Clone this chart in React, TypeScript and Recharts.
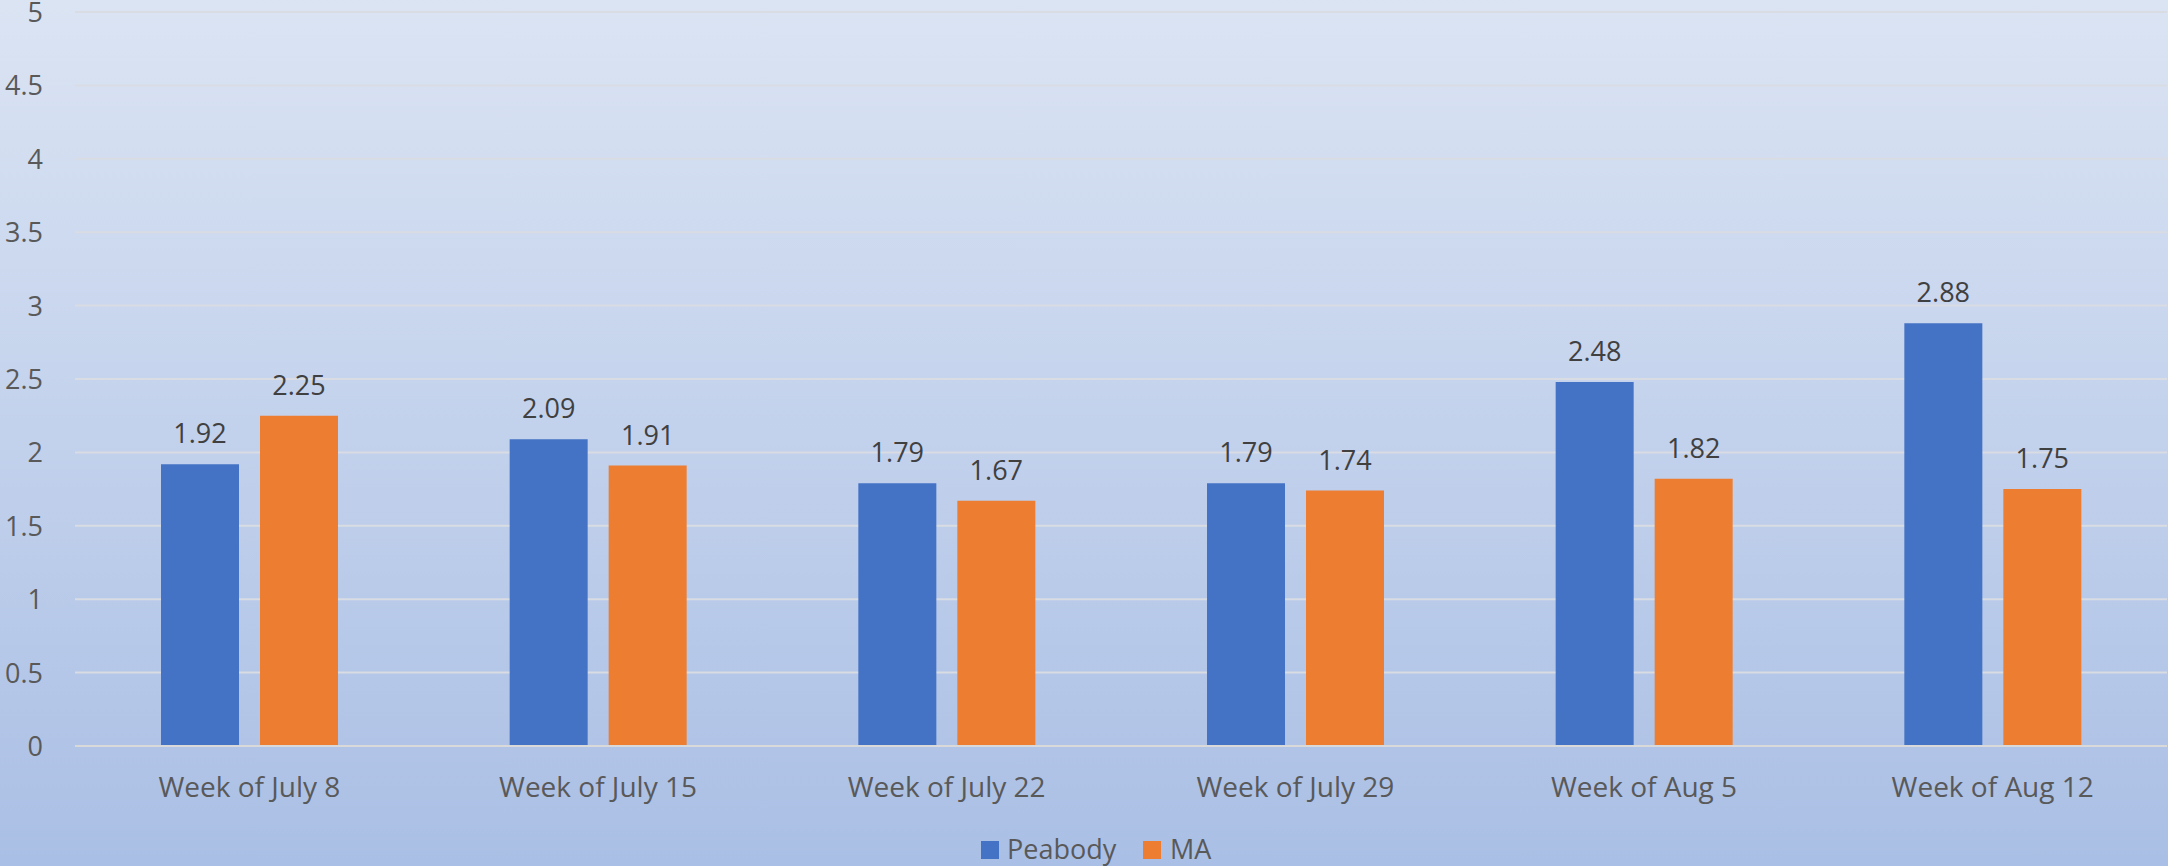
import React from 'react';
import { BarChart, Bar, XAxis, YAxis, CartesianGrid, Legend, LabelList } from 'recharts';

const categories = ['Week of July 8', 'Week of July 15', 'Week of July 22', 'Week of July 29', 'Week of Aug 5', 'Week of Aug 12'];
const peabody = [1.92, 2.09, 1.79, 1.79, 2.48, 2.88];
const ma = [2.25, 1.91, 1.67, 1.74, 1.82, 1.75];
const yTicks = [0, 0.5, 1, 1.5, 2, 2.5, 3, 3.5, 4, 4.5, 5];
const seriesNames = ['Peabody', 'MA'];

const data = categories.map((c, i) => ({ name: c, Peabody: peabody[i], MA: ma[i] }));

const FONT = '"Open Sans", sans-serif';
const BLUE = '#4472C4';
const ORANGE = '#ED7D31';

const XTick = (props: any) => {
  const { x, y, payload } = props;
  return (
    <text x={x} y={y + 51} textAnchor="middle" fontFamily={FONT} fontSize={28} fill="#595959">
      {payload.value}
    </text>
  );
};

const YTick = (props: any) => {
  const { y, payload } = props;
  return (
    <text x={43} y={y + 10} textAnchor="end" fontFamily={FONT} fontSize={27} fill="#595959">
      {payload.value}
    </text>
  );
};

const LegendContent = () => (
  <svg width={260} height={40} style={{ display: 'block' }}>
    <rect x={0} y={11} width={18} height={18} fill={BLUE} />
    <text x={26} y={29} fontFamily={FONT} fontSize={27} fill="#595959">{seriesNames[0]}</text>
    <rect x={162} y={11} width={18} height={18} fill={ORANGE} />
    <text x={189} y={29} fontFamily={FONT} fontSize={27} fill="#595959">{seriesNames[1]}</text>
  </svg>
);

export default function App() {
  return (
    <div
      style={{
        position: 'absolute',
        left: 0,
        top: 0,
        width: 2168,
        height: 866,
        background: 'linear-gradient(to bottom, #dbe4f3 0%, #aabfe5 100%)',
      }}
    >
      <BarChart
        width={2168}
        height={866}
        data={data}
        margin={{ top: 12, right: 1, left: 0, bottom: 0 }}
        barSize={78}
        barGap={21}
      >
        <CartesianGrid vertical={false} stroke="#d9dce3" strokeWidth={2} />
        <XAxis
          dataKey="name"
          height={120}
          tickSize={0}
          tickMargin={0}
          tickLine={false}
          axisLine={{ stroke: '#d9d9d9', strokeWidth: 2 }}
          tick={<XTick />}
          interval={0}
        />
        <YAxis
          width={75}
          domain={[0, 5]}
          ticks={yTicks}
          axisLine={false}
          tickLine={false}
          tickSize={0}
          tick={<YTick />}
          interval={0}
        />
        <Legend
          layout="horizontal"
          verticalAlign="middle"
          align="center"
          content={<LegendContent />}
          wrapperStyle={{ top: 830, left: 981, width: 260, height: 40 }}
        />
        <Bar dataKey="Peabody" fill={BLUE} isAnimationActive={false}>
          <LabelList dataKey="Peabody" position="top" offset={21} fontFamily={FONT} fontSize={27} fill="#404040" />
        </Bar>
        <Bar dataKey="MA" fill={ORANGE} isAnimationActive={false}>
          <LabelList dataKey="MA" position="top" offset={21} fontFamily={FONT} fontSize={27} fill="#404040" />
        </Bar>
      </BarChart>
    </div>
  );
}
